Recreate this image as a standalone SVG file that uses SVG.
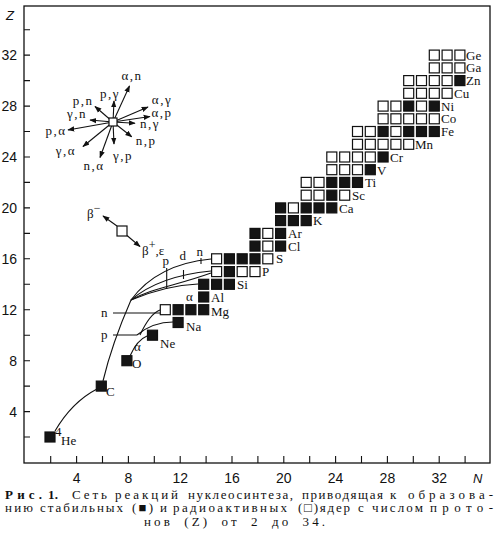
<svg xmlns="http://www.w3.org/2000/svg" xmlns:xlink="http://www.w3.org/1999/xlink" width="504" height="544" viewBox="0 0 504 544">
<style>
.ax{fill:none;stroke:#111;stroke-width:1.3}
.tk{stroke:#111;stroke-width:1.1}
.num{font-family:"Liberation Sans Narrow","Liberation Sans",Arial,sans-serif;font-size:14px;fill:#111}
.it{font-family:"Liberation Sans","DejaVu Sans",sans-serif;font-style:italic;font-size:13px;fill:#111}
.el{font-family:"Liberation Serif","DejaVu Serif",serif;font-size:13px;fill:#111}
.rx{font-family:"Liberation Serif","DejaVu Serif",serif;font-size:13px;fill:#111;text-anchor:middle;letter-spacing:1.5px}
.cv{fill:none;stroke:#111;stroke-width:1.1}
.ar{fill:none;stroke:#111;stroke-width:1.1;marker-end:url(#ah)}
.cap{font-family:"Liberation Serif","DejaVu Serif",serif;font-size:13px;fill:#111}
</style>
<defs>
<marker id="ah" viewBox="0 0 10 10" refX="9" refY="5" markerWidth="7" markerHeight="7" orient="auto" markerUnits="userSpaceOnUse"><path d="M0,1.2 L10,5 L0,8.8 z" fill="#111"/></marker>
<rect id="e" x="-5" y="-5" width="10" height="10" fill="#fff" stroke="#111" stroke-width="1.2"/>
<rect id="f" x="-5" y="-5" width="10" height="10" fill="#151515" stroke="#111" stroke-width="1.2"/>
</defs>
<rect width="504" height="544" fill="#fff"/>

<g id="axes">
<rect class="ax" x="24" y="6" width="466" height="457"/>
<g class="tk">
<path d="M24,437H30M24,411.6H30M24,386.1H30M24,360.7H30M24,335.2H30M24,309.7H30M24,284.3H30M24,258.8H30M24,233.4H30M24,207.9H30M24,182.4H30M24,157H30M24,131.5H30M24,106.1H30M24,80.6H30M24,55.1H30M24,29.7H30"/>
<path d="M50.7,463V456M76.6,463V456M102.5,463V456M128.4,463V456M154.3,463V456M180.2,463V456M206.1,463V456M232,463V456M257.9,463V456M283.8,463V456M309.7,463V456M335.6,463V456M361.5,463V456M387.4,463V456M413.3,463V456M439.2,463V456M465.1,463V456"/>
</g>
<g class="num" text-anchor="end">
<text x="17" y="416.5">4</text><text x="17" y="365.6">8</text><text x="17" y="314.7">12</text><text x="17" y="263.8">16</text><text x="17" y="212.9">20</text><text x="17" y="162">24</text><text x="17" y="111.1">28</text><text x="17" y="60.1">32</text>
</g>
<g class="num" text-anchor="middle">
<text x="76.6" y="483">4</text><text x="128.4" y="483">8</text><text x="180.2" y="483">12</text><text x="232" y="483">16</text><text x="283.8" y="483">20</text><text x="335.6" y="483">24</text><text x="387.4" y="483">28</text><text x="439.2" y="483">32</text>
</g>
<text class="it" x="6" y="20">Z</text>
<text class="it" x="473" y="483">N</text>
</g>

<g id="connectors">
<path class="cv" d="M55,431 Q72,402 97,389"/>
<path class="cv" d="M103,381 C108,360 117,332 131,300"/>
<path class="cv" d="M131,300 C150,274 180,262 211,259"/>
<path class="cv" d="M131,300 C152,282 180,274 211,271"/>
<path class="cv" d="M131,300 C152,288 175,286 211,273"/>
<path class="cv" d="M131,300 C150,292 175,285 198,284"/>
<path class="cv" d="M130,356 Q137,340 147,336"/>
<path class="cv" d="M137,335 C148,326 160,322 173,322"/>
<path class="cv" d="M140,335 C146,322 152,313 160,310"/>
<path class="cv" d="M113,313H160M113,335H137"/>
<path class="cv" d="M166.7,268V289M183.5,270V279M201,258V264"/>
</g>

<g id="star">
<g class="ar">
<path d="M113,122L129.5,86"/><path d="M113,122L114,101"/><path d="M113,122L95,106.5"/><path d="M113,122L148,107"/>
<path d="M113,122L90,120"/><path d="M113,122L150,116.5"/><path d="M113,122L135,123.3"/><path d="M113,122L68,130"/>
<path d="M113,122L83,146.5"/><path d="M113,122L100,157.5"/><path d="M113,122L114,144"/><path d="M113,122L131.7,136.7"/>
</g>
<rect x="109" y="118" width="8" height="8" fill="#fff" stroke="#111" stroke-width="1.2"/>
<text class="rx" x="132" y="80">α,n</text><text class="rx" x="110" y="98">p,γ</text><text class="rx" x="83" y="105">p,n</text>
<text class="rx" x="162" y="104">α,γ</text><text class="rx" x="77" y="118">γ,n</text><text class="rx" x="162" y="117">α,p</text>
<text class="rx" x="150" y="128">n,γ</text><text class="rx" x="56" y="135">p,α</text><text class="rx" x="66" y="155">γ,α</text>
<text class="rx" x="94" y="170">n,α</text><text class="rx" x="123" y="160">γ,p</text><text class="rx" x="146" y="145">n,p</text>
</g>

<g id="beta">
<path class="ar" d="M117,226L103,216"/><path class="ar" d="M127,235.5L140,246.5"/>
<rect x="117" y="226" width="10" height="10" fill="#fff" stroke="#111" stroke-width="1.2"/>
<text class="el" x="87" y="218" font-size="15">β<tspan dy="-6" font-size="12">−</tspan></text>
<text class="el" x="142" y="255" font-size="15">β<tspan dy="-6" font-size="12">+</tspan><tspan dy="6">,ε</tspan></text>
</g>

<g id="labels-pdn">
<text class="el" x="162.5" y="265" font-size="14">p</text><text class="el" x="179.5" y="260" font-size="14">d</text><text class="el" x="196.5" y="256" font-size="14">n</text>
<text class="el" x="186" y="301" font-size="14">α</text>
<text class="el" x="101" y="317" font-size="14">n</text><text class="el" x="101" y="339" font-size="14">p</text>
<text class="el" x="134" y="351" font-size="14">α</text>
</g>

<g id="He"><use href="#f" x="50" y="437"/><text class="el" x="55" y="436" font-size="10">4</text><text class="el" x="61" y="445" font-size="14">He</text></g>
<g id="C"><use href="#f" x="101.3" y="386.1"/><text class="el" x="106" y="396" font-size="14">C</text></g>
<g id="O"><use href="#f" x="126.9" y="360.7"/><text class="el" x="132" y="368" font-size="14">O</text></g>
<g id="Ne"><use href="#f" x="152.5" y="335.2"/><text class="el" x="160" y="348" font-size="14">Ne</text></g>
<g id="Na"><use href="#f" x="178.1" y="322.5"/><text class="el" x="186" y="331" font-size="14">Na</text></g>
<g id="Mg"><use href="#e" x="165.3" y="309.7"/><use href="#f" x="178.1" y="309.7"/><use href="#f" x="190.9" y="309.7"/><use href="#f" x="203.7" y="309.7"/><text class="el" x="211" y="316" font-size="14">Mg</text></g>
<g id="Al"><use href="#f" x="203.7" y="297"/><text class="el" x="211" y="302">Al</text></g>
<g id="Si"><use href="#f" x="203.7" y="284.3"/><use href="#f" x="216.6" y="284.3"/><use href="#f" x="229.4" y="284.3"/><text class="el" x="237" y="289">Si</text></g>
<g id="P"><use href="#e" x="216.6" y="271.6"/><use href="#f" x="229.4" y="271.6"/><use href="#e" x="242.2" y="271.6"/><use href="#e" x="255" y="271.6"/><text class="el" x="262" y="276">P</text></g>
<g id="S"><use href="#e" x="216.6" y="258.8"/><use href="#f" x="229.4" y="258.8"/><use href="#f" x="242.2" y="258.8"/><use href="#f" x="255" y="258.8"/><use href="#e" x="267.8" y="258.8"/><text class="el" x="276" y="263">S</text></g>
<g id="Cl"><use href="#f" x="255" y="246.1"/><use href="#e" x="267.8" y="246.1"/><use href="#f" x="280.6" y="246.1"/><text class="el" x="288" y="251">Cl</text></g>
<g id="Ar"><use href="#f" x="255" y="233.4"/><use href="#e" x="267.8" y="233.4"/><use href="#f" x="280.6" y="233.4"/><text class="el" x="288" y="238">Ar</text></g>
<g id="K"><use href="#f" x="280.6" y="220.6"/><use href="#f" x="293.4" y="220.6"/><use href="#f" x="306.2" y="220.6"/><text class="el" x="313" y="225">K</text></g>
<g id="Ca"><use href="#f" x="280.6" y="207.9"/><use href="#e" x="293.4" y="207.9"/><use href="#f" x="306.2" y="207.9"/><use href="#f" x="319" y="207.9"/><use href="#f" x="331.8" y="207.9"/><text class="el" x="339" y="213">Ca</text></g>
<g id="Sc"><use href="#e" x="306.2" y="195.2"/><use href="#e" x="319" y="195.2"/><use href="#f" x="331.8" y="195.2"/><use href="#e" x="344.7" y="195.2"/><text class="el" x="352" y="200">Sc</text></g>
<g id="Ti"><use href="#e" x="306.2" y="182.4"/><use href="#e" x="319" y="182.4"/><use href="#f" x="331.8" y="182.4"/><use href="#f" x="344.7" y="182.4"/><use href="#f" x="357.5" y="182.4"/><text class="el" x="365" y="187">Ti</text></g>
<g id="V"><use href="#e" x="331.8" y="169.7"/><use href="#e" x="344.7" y="169.7"/><use href="#e" x="357.5" y="169.7"/><use href="#f" x="370.3" y="169.7"/><text class="el" x="377" y="175">V</text></g>
<g id="Cr"><use href="#e" x="331.8" y="157"/><use href="#e" x="344.7" y="157"/><use href="#e" x="357.5" y="157"/><use href="#e" x="370.3" y="157"/><use href="#f" x="383.1" y="157"/><text class="el" x="390" y="162">Cr</text></g>
<g id="Mn"><use href="#e" x="357.5" y="144.3"/><use href="#e" x="370.3" y="144.3"/><use href="#e" x="383.1" y="144.3"/><use href="#e" x="395.9" y="144.3"/><use href="#e" x="408.7" y="144.3"/><text class="el" x="415" y="149">Mn</text></g>
<g id="Fe"><use href="#e" x="357.5" y="131.5"/><use href="#e" x="370.3" y="131.5"/><use href="#f" x="383.1" y="131.5"/><use href="#e" x="395.9" y="131.5"/><use href="#f" x="408.7" y="131.5"/><use href="#f" x="421.5" y="131.5"/><use href="#f" x="434.3" y="131.5"/><text class="el" x="441" y="136">Fe</text></g>
<g id="Co"><use href="#e" x="383.1" y="118.8"/><use href="#e" x="395.9" y="118.8"/><use href="#e" x="408.7" y="118.8"/><use href="#e" x="421.5" y="118.8"/><use href="#e" x="434.3" y="118.8"/><text class="el" x="441" y="123">Co</text></g>
<g id="Ni"><use href="#e" x="383.1" y="106.1"/><use href="#e" x="395.9" y="106.1"/><use href="#f" x="408.7" y="106.1"/><use href="#e" x="421.5" y="106.1"/><use href="#f" x="434.3" y="106.1"/><text class="el" x="441" y="111">Ni</text></g>
<g id="Cu"><use href="#e" x="408.7" y="93.3"/><use href="#e" x="421.5" y="93.3"/><use href="#e" x="434.3" y="93.3"/><use href="#e" x="447.1" y="93.3"/><text class="el" x="454" y="98">Cu</text></g>
<g id="Zn"><use href="#e" x="408.7" y="80.6"/><use href="#e" x="421.5" y="80.6"/><use href="#e" x="434.3" y="80.6"/><use href="#e" x="447.1" y="80.6"/><use href="#f" x="459.9" y="80.6"/><text class="el" x="466" y="85">Zn</text></g>
<g id="Ga"><use href="#e" x="434.3" y="67.9"/><use href="#e" x="447.1" y="67.9"/><use href="#e" x="459.9" y="67.9"/><text class="el" x="466" y="72">Ga</text></g>
<g id="Ge"><use href="#e" x="434.3" y="55.1"/><use href="#e" x="447.1" y="55.1"/><use href="#e" x="459.9" y="55.1"/><text class="el" x="466" y="60">Ge</text></g>

<g id="caption" class="cap">
<text x="5" y="499" textLength="37" lengthAdjust="spacing" font-weight="bold">Рис.</text>
<text x="48" y="499" textLength="10" lengthAdjust="spacing" font-weight="bold">1.</text>
<text x="72" y="499" textLength="35" lengthAdjust="spacing">Сеть</text>
<text x="115" y="499" textLength="63" lengthAdjust="spacing">реакций</text>
<text x="188" y="499" textLength="105" lengthAdjust="spacing">нуклеосинтеза,</text>
<text x="302" y="499" textLength="81" lengthAdjust="spacing">приводящая</text>
<text x="390" y="499" textLength="8" lengthAdjust="spacing">к</text>
<text x="408" y="499" textLength="85" lengthAdjust="spacing">образова-</text>
<text x="5" y="512" textLength="28" lengthAdjust="spacing">нию</text>
<text x="40" y="512" textLength="83" lengthAdjust="spacing">стабильных</text>
<text x="132" y="512" textLength="21" lengthAdjust="spacing">(■)</text>
<text x="160" y="512" textLength="7" lengthAdjust="spacing">и</text>
<text x="173" y="512" textLength="114" lengthAdjust="spacing">радиоактивных</text>
<text x="298" y="512" textLength="52" lengthAdjust="spacing">(□)ядер</text>
<text x="358" y="512" textLength="7" lengthAdjust="spacing">с</text>
<text x="372" y="512" textLength="51" lengthAdjust="spacing">числом</text>
<text x="430" y="512" textLength="63" lengthAdjust="spacing">прото-</text>
<text x="144" y="526" textLength="181" lengthAdjust="spacing" word-spacing="5">нов (Z) от 2 до 34.</text>
</g>
</svg>
